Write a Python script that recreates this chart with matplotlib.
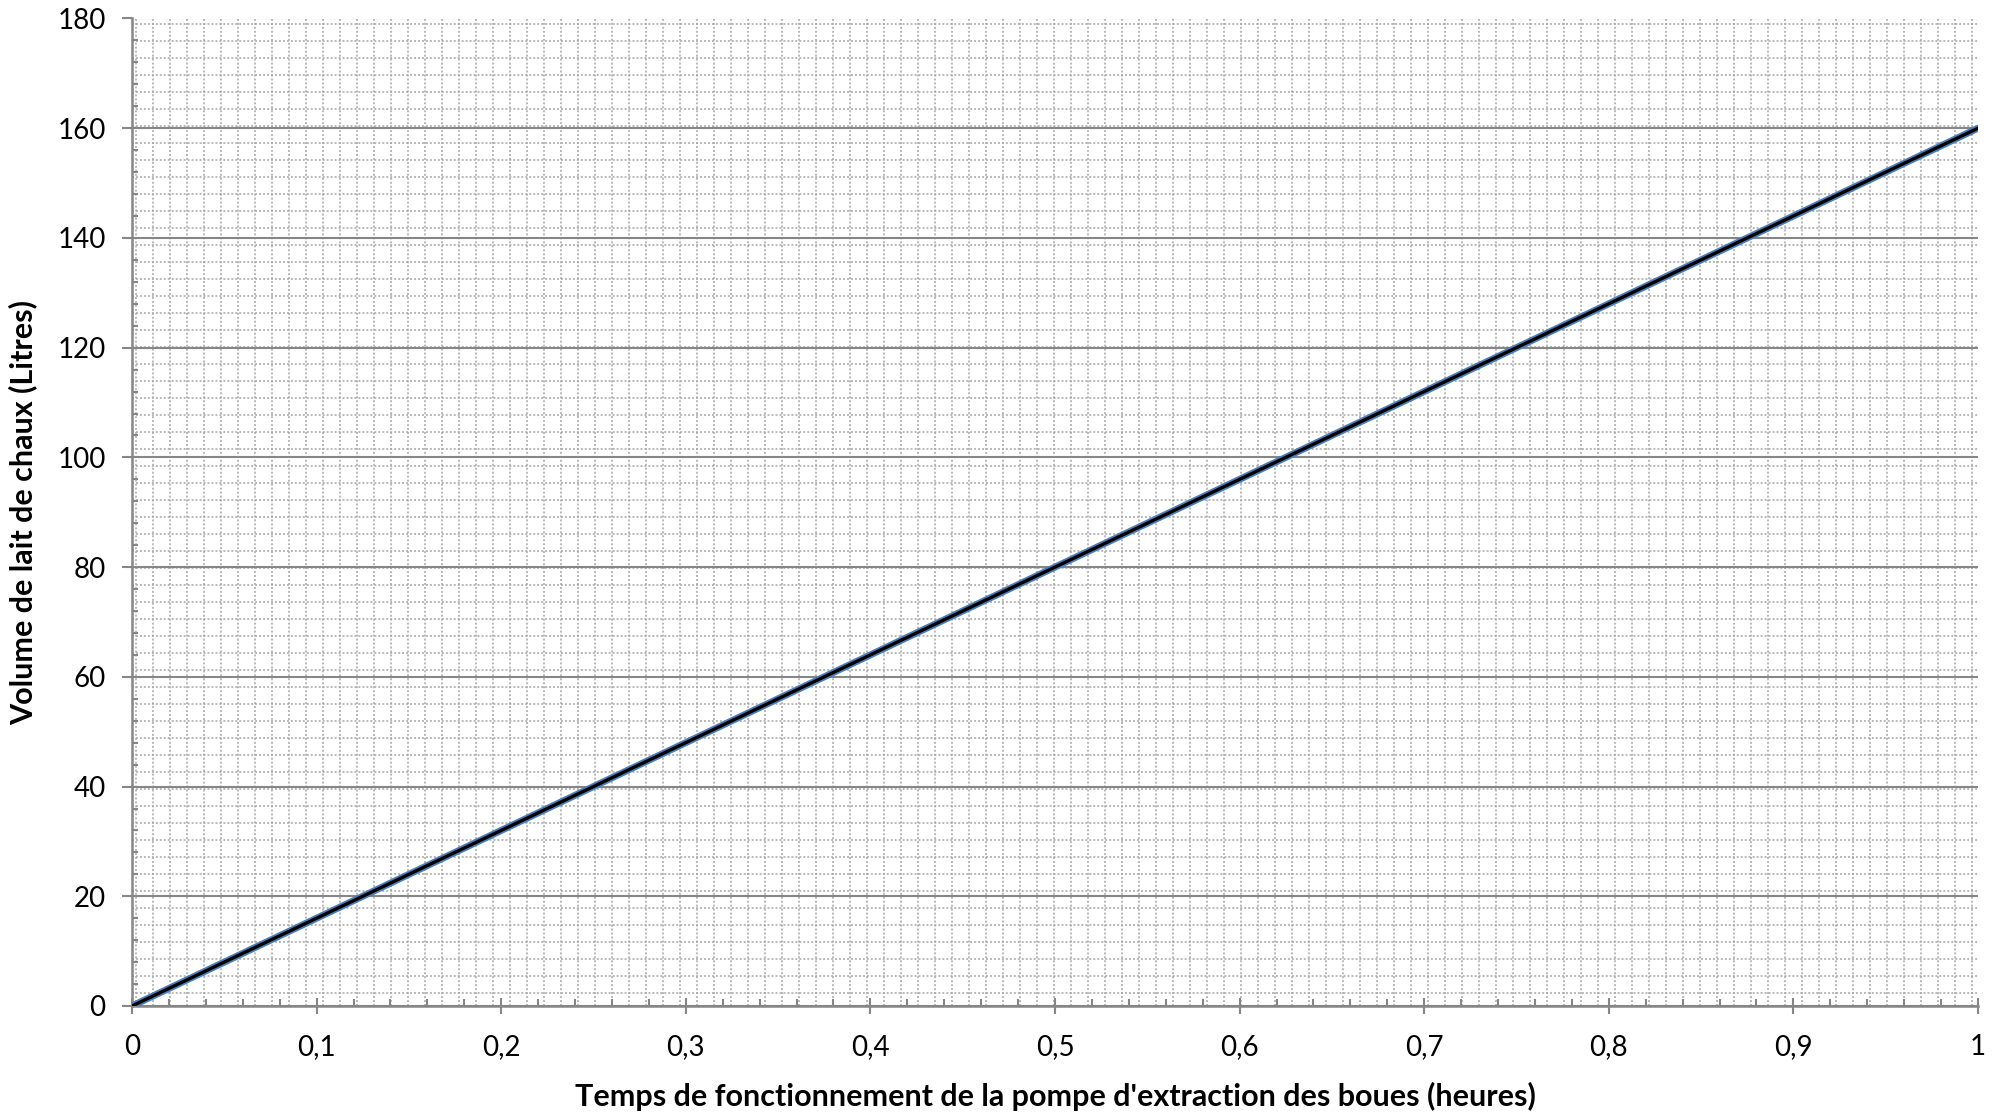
import matplotlib
matplotlib.use("Agg")
import matplotlib.pyplot as plt
import numpy as np
from matplotlib.ticker import MultipleLocator, FuncFormatter

temps = [0, 0.1, 0.2, 0.3, 0.4, 0.5, 0.6, 0.7, 0.8, 0.9, 1.0]
volume = [0, 16, 32, 48, 64, 80, 96, 112, 128, 144, 160]

plt.rcParams['font.family'] = ['Lato', 'DejaVu Sans']

W, H = 2005, 1114
fig = plt.figure(figsize=(W / 100, H / 100), dpi=100)

# axes box in pixels
left, right, top, bottom = 132, 1978, 18.5, 1006
pos = [left / W, (H - bottom) / H, (right - left) / W, (bottom - top) / H]

# excel-like dotted pattern fill behind the plot
bg = fig.add_axes(pos, zorder=0)
aw, ah = right - left, bottom - top
bg.set_xlim(0, aw)
bg.set_ylim(ah, 0)
bg.axis('off')
for px in np.arange(4, aw, 17):
    bg.axvline(px, color='#a6a6a6', lw=1.1, dashes=(1.3, 1.3))
for py in np.arange(5, ah, 17):
    bg.axhline(py, color='#a6a6a6', lw=1.1, dashes=(1.3, 1.3))

ax = fig.add_axes(pos, zorder=1)
ax.patch.set_alpha(0)

ax.plot(temps, volume, color='#4a7ebb', lw=5.0, solid_capstyle='round', zorder=3)
ax.plot(temps, volume, color='black', lw=2.4, solid_capstyle='round', zorder=4)

ax.set_xlim(0, 1)
ax.set_ylim(0, 180)
ax.xaxis.set_major_locator(MultipleLocator(0.1))
ax.xaxis.set_minor_locator(MultipleLocator(0.02))
ax.yaxis.set_major_locator(MultipleLocator(20))
ax.yaxis.set_minor_locator(MultipleLocator(4))

def fr(v, pos):
    s = ('%.1f' % v).rstrip('0').rstrip('.')
    return s.replace('.', ',')

ax.xaxis.set_major_formatter(FuncFormatter(fr))

ax.yaxis.grid(True, which='major', color='#868686', lw=1.5)
ax.set_axisbelow(True)

for s in ['top', 'right']:
    ax.spines[s].set_visible(False)
for s in ['left', 'bottom']:
    ax.spines[s].set_color('#868686')
    ax.spines[s].set_linewidth(1.8)

ax.tick_params(axis='x', which='major', direction='inout', length=12, width=1.5,
               color='#868686', labelsize=20, pad=14)
ax.tick_params(axis='x', which='minor', direction='in', length=5, width=1.5, color='#868686')
ax.tick_params(axis='y', which='major', direction='out', length=7, width=1.5,
               color='#868686', labelsize=20, pad=12)
ax.tick_params(axis='y', which='minor', direction='in', length=4, width=1.5, color='#868686')

ax.set_xlabel("Temps de fonctionnement de la pompe d'extraction des boues (heures)",
              fontsize=22, fontweight='bold', labelpad=16)
ax.set_ylabel("Volume de lait de chaux (Litres)", fontsize=22, fontweight='bold',
              labelpad=14)

fig.savefig('out.png', dpi=100)
